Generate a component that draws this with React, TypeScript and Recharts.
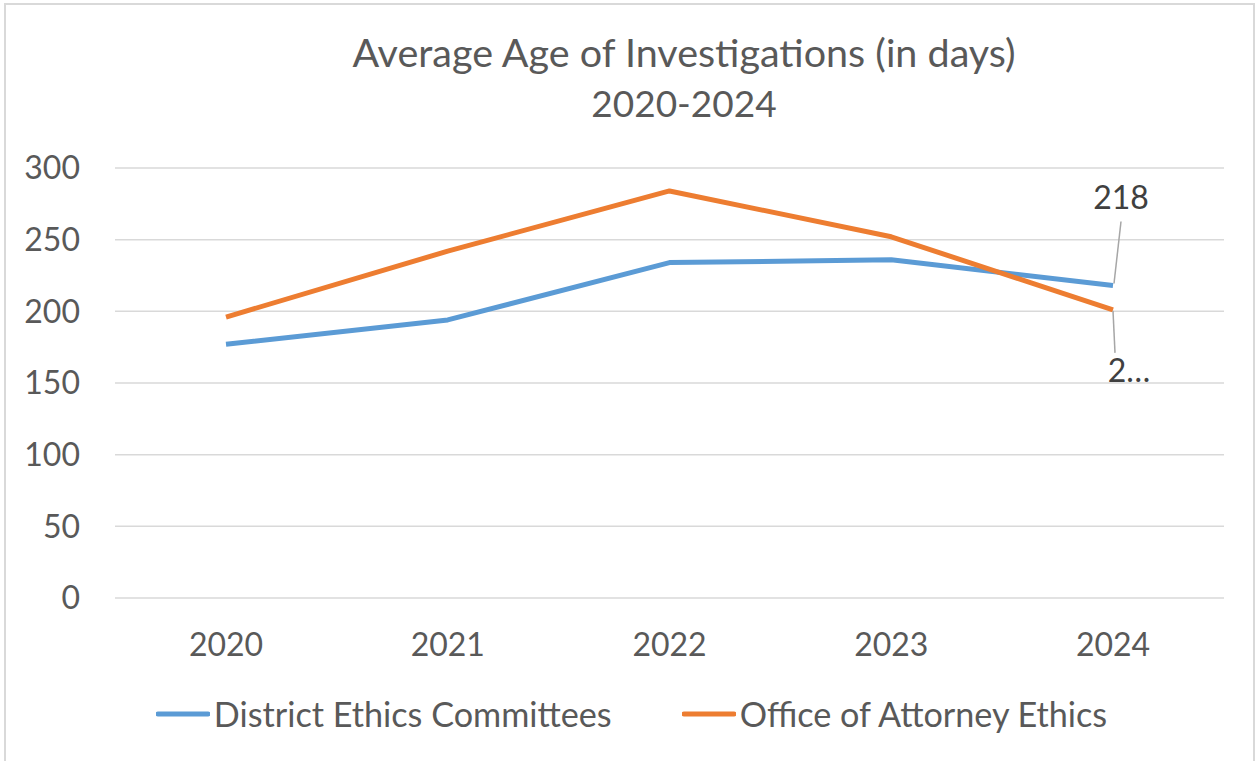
import React from "react";
import { LineChart, Line, XAxis, YAxis, CartesianGrid, Legend, LabelList } from "recharts";

const years = ["2020", "2021", "2022", "2023", "2024"];
const districtEthics = [177, 194, 234, 236, 218];
const officeAttorneyEthics = [196, 242, 284, 252, 201];
const yTicks = [0, 50, 100, 150, 200, 250, 300];
const seriesNames = ["District Ethics Committees", "Office of Attorney Ethics"];
const seriesColors = ["#5B9BD5", "#ED7D31"];
const titleLines = ["Average Age of Investigations (in days)", "2020-2024"];

const data = years.map((y, i) => ({
  year: y,
  dec: districtEthics[i],
  oae: officeAttorneyEthics[i],
}));

const FONT = "Lato, 'Noto Sans', sans-serif";
const TEXT = "#595959";

const makeLastLabel = (above: boolean, text: (v: number) => string) => (props: any) => {
  const { x, y, value, index } = props;
  if (index !== years.length - 1) return null;
  if (above) {
    return (
      <g>
        <line x1={x + 1} y1={y - 2} x2={x + 8} y2={y - 64} stroke="#A6A6A6" strokeWidth={1.5} />
        <text x={x + 8} y={y - 89} textAnchor="middle" dominantBaseline="central" fontFamily={FONT} fontSize={32} fill="#404040">
          {text(value)}
        </text>
      </g>
    );
  }
  return (
    <g>
      <line x1={x} y1={y + 1} x2={x + 2} y2={y + 43} stroke="#A6A6A6" strokeWidth={1.5} />
      <text x={x + 16} y={y + 60} textAnchor="middle" dominantBaseline="central" fontFamily={FONT} fontSize={32} fill="#404040">
        {text(value)}
      </text>
    </g>
  );
};

const renderLegend = () => (
  <div style={{ height: 55, display: "flex", justifyContent: "center", alignItems: "center", fontFamily: FONT, fontSize: 34.2, color: TEXT, paddingLeft: 24 }}>
    {seriesNames.map((n, i) => (
      <div key={n} style={{ display: "flex", alignItems: "center", marginRight: i === 0 ? 70 : 0 }}>
        <svg width={54} height={10} style={{ marginRight: 4 }}>
          <line x1={2} y1={5} x2={52} y2={5} stroke={seriesColors[i]} strokeWidth={5} strokeLinecap="round" />
        </svg>
        <span style={{ whiteSpace: "nowrap" }}>{n}</span>
      </div>
    ))}
  </div>
);

export default function App() {
  return (
    <div style={{ position: "fixed", left: 0, top: 0, width: 1256, height: 761, overflow: "hidden", background: "#fff" }}>
      <div style={{ position: "absolute", left: 4, top: 3, width: 1247, height: 800, border: "2px solid #D9D9D9", borderBottom: "none" }} />
      <div style={{ position: "absolute", left: 184, width: 1000, top: 26, textAlign: "center", fontFamily: FONT, color: TEXT, lineHeight: "51px" }}>
        <div style={{ fontSize: 39.5 }}>{titleLines[0]}</div>
        <div style={{ fontSize: 37 }}>{titleLines[1]}</div>
      </div>
      <div style={{ position: "absolute", left: 0, top: 0 }}>
        <LineChart width={1256} height={761} data={data} margin={{ top: 168, right: 32, bottom: 20, left: 15 }}>
          <CartesianGrid vertical={false} stroke="#D9D9D9" strokeWidth={1.5} />
          <XAxis
            dataKey="year"
            axisLine={false}
            tickLine={false}
            height={88}
            tickSize={0}
            tickMargin={35}
            padding={{ left: 111, right: 111 }}
            tick={{ fontFamily: FONT, fontSize: 32, fill: TEXT }}
          />
          <YAxis
            domain={[0, 300]}
            ticks={yTicks}
            axisLine={false}
            tickLine={false}
            width={100}
            tickSize={0}
            tickMargin={35}
            tick={{ fontFamily: FONT, fontSize: 32, fill: TEXT }}
          />
          <Legend verticalAlign="bottom" content={renderLegend} />
          <Line dataKey="dec" name={seriesNames[0]} stroke={seriesColors[0]} strokeWidth={5} dot={false} strokeLinejoin="round" isAnimationActive={false}>
            <LabelList dataKey="dec" content={makeLastLabel(true, (v) => String(v))} />
          </Line>
          <Line dataKey="oae" name={seriesNames[1]} stroke={seriesColors[1]} strokeWidth={5} dot={false} strokeLinejoin="round" isAnimationActive={false}>
            <LabelList dataKey="oae" content={makeLastLabel(false, (v) => String(v).slice(0, 1) + "…")} />
          </Line>
        </LineChart>
      </div>
    </div>
  );
}
